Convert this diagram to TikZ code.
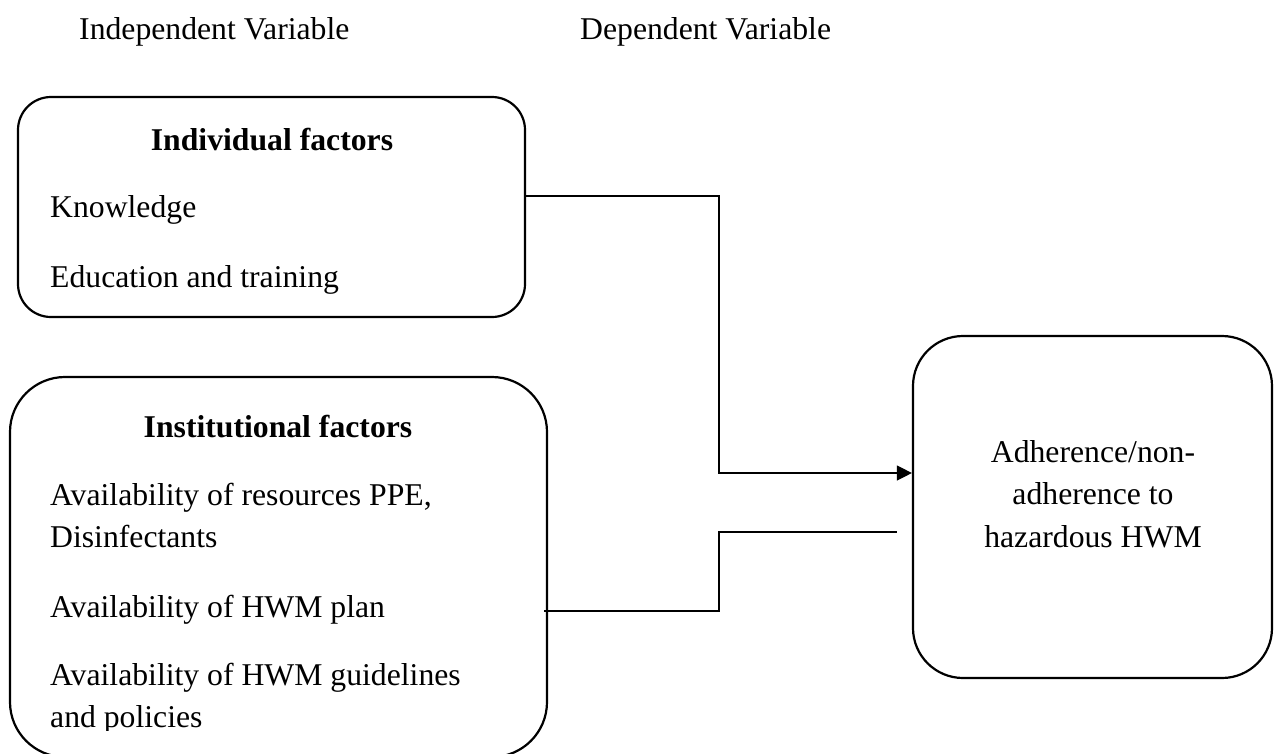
\documentclass[tikz,border=0pt]{standalone}
\usepackage{fontspec}
\setmainfont{Liberation Serif}
\usetikzlibrary{arrows.meta}
\tikzset{
  roundbox/.style={draw=black, line width=2.2pt, rounded corners=#1, inner sep=0pt},
  txt/.style={inner sep=0pt, anchor=base west, font=\fontsize{31.7}{42}\selectfont},
  ctxt/.style={inner sep=0pt, anchor=base, font=\fontsize{31.7}{42}\selectfont},
  ttl/.style={inner sep=0pt, anchor=base, font=\fontsize{31.7}{42}\selectfont\bfseries},
  conn/.style={draw=black, line width=1.3pt},
  tip/.style={-{Triangle[length=15pt,width=15pt]}}
}
\begin{document}
\begin{tikzpicture}[x=1pt,y=-1pt]
\useasboundingbox[fill=white] (0,0) rectangle (1278,753);

% headers
\node[txt] (hind) at (79,39) {Independent Variable};
\node[txt] (hdep) at (580,39) {Dependent Variable};

% boxes
\node[roundbox=33pt, minimum width=507pt, minimum height=220pt] (ind) at (271.5,207) {};
\node[roundbox=55pt, minimum width=537pt, minimum height=380pt] (inst) at (278.5,567) {};
\node[roundbox=50pt, minimum width=359pt, minimum height=342pt] (dep) at (1092.5,507) {};

% individual factors
\node[ttl] (indt) at (272,150) {Individual factors};
\node[txt] (kn) at (50,217) {Knowledge};
\node[txt] (edu) at (50,287) {Education and training};

% institutional factors
\node[ttl] (instt) at (278,437) {Institutional factors};
\node[txt] (res1) at (50,505) {Availability of resources PPE,};
\node[txt] (res2) at (50,547) {Disinfectants};
\node[txt] (plan) at (50,617) {Availability of HWM plan};
\node[txt] (gl1) at (50,685) {Availability of HWM guidelines};
\begin{scope}
\clip (0,690) rectangle (600,730);
\node[txt] (gl2) at (50,727) {and policies};
\end{scope}

% dependent
\node[ctxt] (d1) at (1093,462) {Adherence/non-};
\node[ctxt] (d2) at (1093,504) {adherence to};
\node[ctxt] (d3) at (1093,547) {hazardous HWM};

% connectors
\coordinate (k1) at (719,196);
\coordinate (k2) at (719,473);
\draw[conn, tip] (ind.east |- k1) -- (k1) -- (k2) -- (dep.west |- k2);

\coordinate (m1) at (719,611);
\coordinate (m2) at (719,532);
\coordinate (m3) at (897,532);
\draw[conn] ([xshift=-4pt]inst.east |- m1) -- (m1) -- (m2) -- (m3);
\end{tikzpicture}
\end{document}
